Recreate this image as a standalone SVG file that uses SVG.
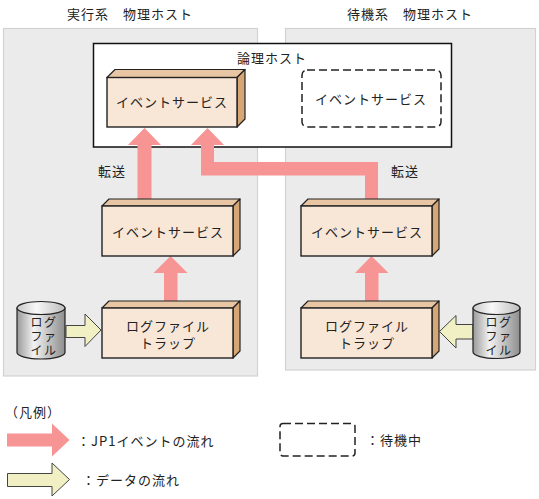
<svg xmlns="http://www.w3.org/2000/svg" width="539" height="499" viewBox="0 0 539 499">
<defs>
<style>
text{font-family:"Noto Sans CJK JP","Noto Sans",sans-serif;font-size:13px;fill:#222;letter-spacing:1px;dominant-baseline:central}
.c{text-anchor:middle}
.s{font-size:12px;letter-spacing:1.5px}
.panel{fill:#EBEBEB;stroke:#D2D2D2;stroke-width:1.2}
.front{fill:#F8E6D6;stroke:#222;stroke-width:1.4}
.top{fill:#E9C6A3;stroke:#222;stroke-width:1.2;stroke-linejoin:round}
.side{fill:#D6A677;stroke:#222;stroke-width:1.2;stroke-linejoin:round}
.pink{fill:#F79494}
.yel{fill:#F0F0C4;stroke:#444;stroke-width:1}
.dash{fill:#fff;stroke:#222;stroke-width:1.5;stroke-dasharray:8 4}
.cyl{fill:url(#cg);stroke:#222;stroke-width:1.2}
.cyltop{fill:url(#ct);stroke:#222;stroke-width:1.2}
</style>
<linearGradient id="cg" x1="0" y1="0" x2="1" y2="0">
<stop offset="0" stop-color="#9a9a9a"/>
<stop offset="0.35" stop-color="#f2f2f2"/>
<stop offset="1" stop-color="#8e8e8e"/>
</linearGradient>
<linearGradient id="ct" x1="0" y1="0" x2="1" y2="0">
<stop offset="0" stop-color="#c8c8c8"/>
<stop offset="0.4" stop-color="#f8f8f8"/>
<stop offset="1" stop-color="#bdbdbd"/>
</linearGradient>
</defs>

<g id="panel-active">
<rect class="panel" x="3.5" y="28.5" width="254" height="347.5"/>
<text class="c" x="130" y="13">実行系　物理ホスト</text>
</g>
<g id="panel-standby">
<rect class="panel" x="285.5" y="28.5" width="250" height="341.5"/>
<text class="c" x="410" y="13">待機系　物理ホスト</text>
</g>

<g id="logical-host">
<rect x="93.5" y="43.5" width="358" height="103.5" fill="#fff" stroke="#111" stroke-width="1.5"/>
<text class="c" x="272" y="57">論理ホスト</text>
</g>

<g id="connectors">
<polygon class="pink" points="144.5,128 161,145 151.5,145 151.5,202 137.5,202 137.5,145 128,145"/>
<polygon class="pink" points="207.5,128 224,145 214,145 214,162 378,162 378,202 365,202 365,175.5 201,175.5 201,145 191,145"/>
<polygon class="pink" points="170.5,256 187.5,273 177.5,273 177.5,303 164,303 164,273 153.5,273"/>
<polygon class="pink" points="371.5,256 388.5,273 378.5,273 378.5,303 365,303 365,273 355,273"/>
<polygon class="yel" points="66,325.5 85,325.5 85,314 101,330 85,346.5 85,337.5 66,337.5"/>
<polygon class="yel" points="473,324.5 456,324.5 456,315.5 439.5,331.5 456,348 456,339 473,339"/>
<text x="98" y="170">転送</text>
<text x="391" y="170">転送</text>
</g>

<g id="es-logical">
<polygon class="top" points="107,77.5 115,69.5 245,69.5 237,77.5"/>
<polygon class="side" points="237,77.5 245,69.5 245,119 237,127"/>
<rect class="front" x="107" y="77.5" width="130" height="49.5"/>
<text class="c" x="172" y="101">イベントサービス</text>
</g>

<g id="es-standby-logical">
<rect class="dash" x="302" y="70" width="139" height="57" rx="5"/>
<text class="c" x="371" y="98">イベントサービス</text>
</g>

<g id="es-active">
<polygon class="top" points="102,206 109,199 240,199 233,206"/>
<polygon class="side" points="233,206 240,199 240,249 233,256"/>
<rect class="front" x="102" y="206" width="131" height="50"/>
<text class="c" x="168" y="231">イベントサービス</text>
</g>

<g id="trap-active">
<polygon class="top" points="102,308 109,301 240,301 233,308"/>
<polygon class="side" points="233,308 240,301 240,351 233,358"/>
<rect class="front" x="102" y="308" width="131" height="50"/>
<text class="c" x="168" y="325">ログファイル<tspan x="168" dy="17">トラップ</tspan></text>
</g>

<g id="es-standby">
<polygon class="top" points="301,206 308,199 439,199 432,206"/>
<polygon class="side" points="432,206 439,199 439,249 432,256"/>
<rect class="front" x="301" y="206" width="131" height="50"/>
<text class="c" x="367" y="231">イベントサービス</text>
</g>

<g id="trap-standby">
<polygon class="top" points="301,308 308,301 439,301 432,308"/>
<polygon class="side" points="432,308 439,301 439,351 432,358"/>
<rect class="front" x="301" y="308" width="131" height="50"/>
<text class="c" x="367" y="325">ログファイル<tspan x="367" dy="17">トラップ</tspan></text>
</g>

<g id="logfile-active">
<path class="cyl" d="M17,308 L17,352.5 A24,6.5 0 0 0 65,352.5 L65,308 Z"/>
<ellipse class="cyltop" cx="41" cy="308" rx="24" ry="6.5"/>
<text class="c s" x="44" y="321">ログ<tspan x="44" dy="14">ファ</tspan><tspan x="44" dy="14">イル</tspan></text>
</g>

<g id="logfile-standby">
<path class="cyl" d="M473,308 L473,352 A23.5,6.5 0 0 0 520,352 L520,308 Z"/>
<ellipse class="cyltop" cx="496.5" cy="308" rx="23.5" ry="6.5"/>
<text class="c s" x="499" y="321">ログ<tspan x="499" dy="14">ファ</tspan><tspan x="499" dy="14">イル</tspan></text>
</g>

<g id="legend">
<text x="5" y="411">（凡例）</text>
<polygon class="pink" points="7,433.5 52,433.5 52,423.5 69.5,440 52,456.5 52,446.5 7,446.5"/>
<text x="77" y="440">：JP1イベントの流れ</text>
<polygon class="yel" points="7.5,473.5 52,473.5 52,463 69.5,479.5 52,496 52,486.5 7.5,486.5"/>
<text x="82" y="479">：データの流れ</text>
<rect class="dash" x="280" y="423.5" width="75" height="32.5" rx="3"/>
<text x="366" y="439.5">：待機中</text>
</g>
</svg>
